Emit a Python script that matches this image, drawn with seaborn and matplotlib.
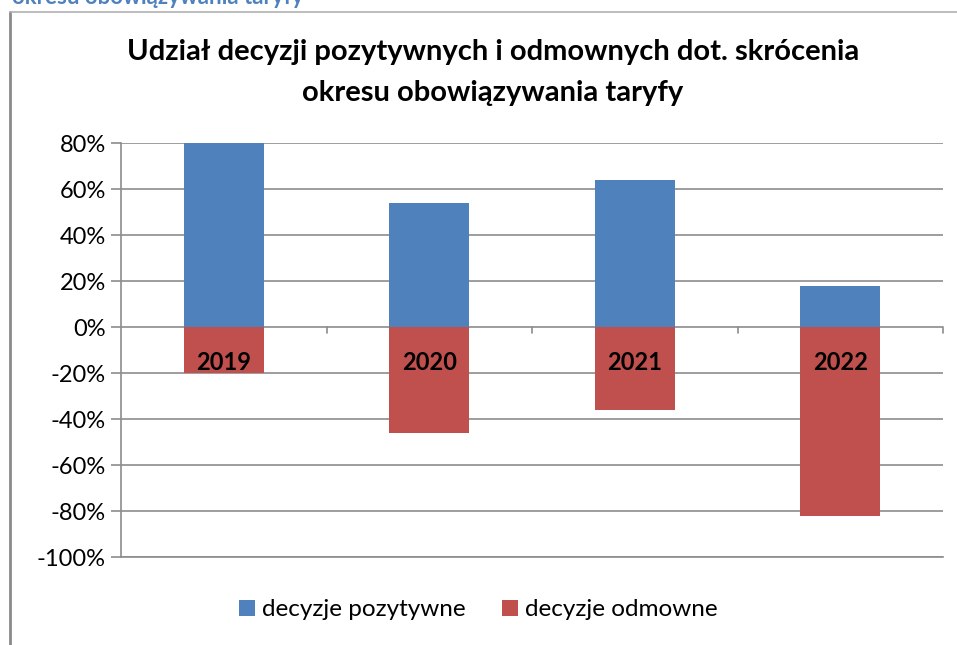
import matplotlib
matplotlib.use("Agg")
import matplotlib.pyplot as plt
import seaborn as sns
import pandas as pd
from matplotlib.lines import Line2D
from matplotlib.patches import Patch

years = ["2019", "2020", "2021", "2022"]
pozytywne = [80, 54, 64, 18]
odmowne = [-20, -46, -36, -82]
series_names = ["decyzje pozytywne", "decyzje odmowne"]
colors = ["#4F81BD", "#C0504D"]
yticks = [80, 60, 40, 20, 0, -20, -40, -60, -80, -100]

sns.set_theme(style="white")
plt.rcParams["font.family"] = ["Lato", "DejaVu Sans"]
plt.rcParams["text.color"] = "black"
plt.rcParams["ytick.labelcolor"] = "black"

df = pd.DataFrame({
    "rok": years * 2,
    "wartosc": pozytywne + odmowne,
    "seria": [series_names[0]] * 4 + [series_names[1]] * 4,
})

fig = plt.figure(figsize=(9.57, 6.45), dpi=100)
ax = fig.add_axes([121/957, 1-557/645, 822/957, (557-143)/645])

sns.barplot(data=df, x="rok", y="wartosc", hue="seria", dodge=False,
            palette=colors, saturation=1, width=0.39, ax=ax, legend=False,
            edgecolor="none", linewidth=0, zorder=3)

ax.set_ylim(-100, 80)
ax.set_xlim(-0.5, 3.5)
ax.set_yticks(yticks)
ax.set_yticklabels([f"{v}%" for v in yticks], fontsize=17, color="black")
ax.set_xticks([])
ax.set_xlabel("")
ax.set_ylabel("")
for v in yticks:
    ax.axhline(v, color="#8c8c8c", lw=1.2, zorder=1)
ax.tick_params(axis="y", direction="out", length=7, width=1.2, color="#8c8c8c", pad=4, left=True)
for s in ["top", "right"]:
    ax.spines[s].set_visible(False)
ax.spines["left"].set_color("#8c8c8c")
ax.spines["left"].set_linewidth(1.2)
ax.spines["bottom"].set_color("#8c8c8c")
ax.spines["bottom"].set_linewidth(1.2)
# category boundary tick marks on zero line
for xb in [0.5, 1.5, 2.5, 3.5]:
    ax.plot([xb, xb], [0, -2.5], color="#8c8c8c", lw=1.2, zorder=2, clip_on=False)

for i, y in enumerate(years):
    ax.text(i, -15.5, y, ha="center", va="center", fontsize=17, fontweight="bold",
            color="black", zorder=5)

fig.suptitle("Udział decyzji pozytywnych i odmownych dot. skrócenia\nokresu obowiązywania taryfy",
             x=0.515, y=1-39/645, fontsize=21, fontweight="bold", linespacing=1.7, color="black")

handles = [Patch(facecolor=c, edgecolor="none") for c in colors]
fig.legend(handles, series_names, loc="center", bbox_to_anchor=(0.5, 1-610/645),
           ncol=2, frameon=False, fontsize=17.5, handlelength=0.65, handleheight=0.65,
           handletextpad=0.3, columnspacing=1.5, labelcolor="black")

# frame lines
fig.add_artist(Line2D([10/957, 10/957], [0, 1-12/645], color="#8a8a8a", lw=2, transform=fig.transFigure))
fig.add_artist(Line2D([10/957, 1], [1-12/645, 1-12/645], color="#b0b0b0", lw=1.2, transform=fig.transFigure))
# clipped heading at top
fig.text(12/957, 1-4/645, "okresu obowiązywania taryfy", color="#4F81BD", fontsize=16,
         fontweight="bold", va="baseline", ha="left")

fig.savefig("out.png", dpi=100)
